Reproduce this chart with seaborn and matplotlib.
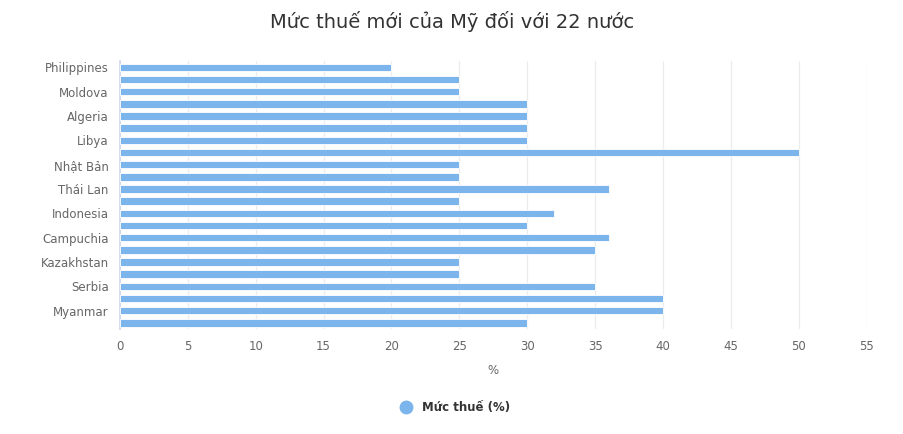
import numpy as np
import pandas as pd
import matplotlib
matplotlib.use("Agg")
import matplotlib.pyplot as plt
import seaborn as sns

# data
countries = ["Philippines", "Brunei", "Moldova", "Iraq", "Algeria", "Sri Lanka",
             "Libya", "Brazil", "Nhật Bản", "Hàn Quốc", "Thái Lan", "Malaysia",
             "Indonesia", "Bosnia", "Campuchia", "Bangladesh", "Kazakhstan",
             "Tunisia", "Serbia", "Lào", "Myanmar", "Nam Phi"]
tariffs = [20, 25, 25, 30, 30, 30, 30, 50, 25, 25, 36, 25,
           32, 30, 36, 35, 25, 25, 35, 40, 40, 30]
x_ticks = [0, 5, 10, 15, 20, 25, 30, 35, 40, 45, 50, 55]

df = pd.DataFrame({"country": countries, "tariff": tariffs})

sns.set_style("white")
plt.rcParams["font.family"] = ["DejaVu Sans"]

fig = plt.figure(figsize=(9.04, 4.34), dpi=100)
ax = fig.add_axes([0.1327, 0.242, 0.826, 0.617])

sns.barplot(data=df, x="tariff", y="country", color="#7cb5ec", saturation=1,
            width=0.62, edgecolor="white", linewidth=0.6, ax=ax, zorder=3)

ax.set_xlim(0, 55)
ax.set_xticks(x_ticks)
ax.set_xticklabels([str(t) for t in x_ticks], color="#666666", fontsize=8.5)
ax.set_yticks(range(len(countries)))
ax.set_yticklabels([c if i % 2 == 0 else "" for i, c in enumerate(countries)],
                   color="#666666", fontsize=8.5)
ax.tick_params(axis="both", length=0, pad=8)
ax.set_ylim(len(countries) - 0.5, -0.5)

ax.grid(axis="x", color="#ececec", linewidth=0.9, zorder=0)
for s in ["top", "right", "bottom"]:
    ax.spines[s].set_visible(False)
ax.spines["left"].set_color("#ccd6eb")
ax.spines["left"].set_linewidth(1.2)

ax.set_xlabel("%", color="#666666", fontsize=8.5, labelpad=8)
ax.set_ylabel("")

fig.text(0.5, 0.95, "Mức thuế mới của Mỹ đối với 22 nước", ha="center", va="center",
         fontsize=14, color="#333333")

# legend
leg = fig.legend(handles=[plt.Line2D([], [], marker="o", linestyle="none", markersize=9,
                                     markerfacecolor="#7cb5ec", markeredgecolor="#7cb5ec")],
                 labels=["Mức thuế (%)"], loc="center", bbox_to_anchor=(0.5, 0.06),
                 frameon=False, handletextpad=0.3,
                 prop={"weight": "bold", "size": 8.5})
for t in leg.get_texts():
    t.set_color("#333333")

fig.savefig("out.png", dpi=100)
